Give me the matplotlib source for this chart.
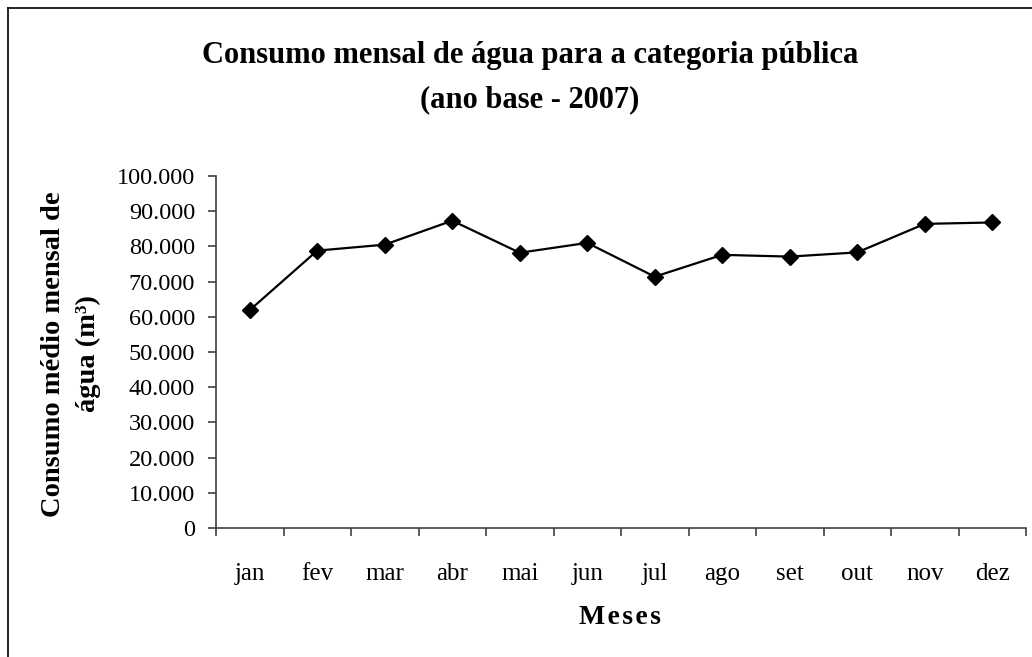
import matplotlib
matplotlib.use("Agg")
import matplotlib.pyplot as plt
from matplotlib.lines import Line2D
import numpy as np

meses = ["jan", "fev", "mar", "abr", "mai", "jun", "jul", "ago", "set", "out", "nov", "dez"]
consumo = [61900, 78800, 80500, 87300, 78200, 81000, 71400, 77600, 77100, 78300, 86400, 86800]
yticks = [0, 10000, 20000, 30000, 40000, 50000, 60000, 70000, 80000, 90000, 100000]
ytick_labels = ["0", "10.000", "20.000", "30.000", "40.000", "50.000", "60.000",
                "70.000", "80.000", "90.000", "100.000"]

plt.rcParams['font.family'] = ['Liberation Serif', 'DejaVu Serif']

fig = plt.figure(figsize=(10.32, 6.57), dpi=100)
ax = fig.add_axes([216/1032, 1-528/657, (1026-216)/1032, (528-176)/657])

x = np.arange(len(meses))
ax.plot(x, consumo, color='black', lw=1.6, marker='D', markersize=8, zorder=3)

ax.set_xlim(-0.5, len(meses) - 0.5)
ax.set_ylim(0, 100000)
ax.set_yticks(yticks)
ax.set_yticklabels(ytick_labels, fontsize=17.5)
ax.set_xticks(x)
ax.set_xticklabels(meses, fontsize=18)
ax.set_xticks(np.arange(len(meses) + 1) - 0.5, minor=True)
ax.tick_params(axis='x', which='major', length=0, pad=25)
ax.tick_params(axis='x', which='minor', length=6, width=1.2, color='#404040', direction='out')
ax.tick_params(axis='y', length=6, width=1.2, color='#404040', direction='out', pad=9)

for s in ['top', 'right']:
    ax.spines[s].set_visible(False)
for s in ['left', 'bottom']:
    ax.spines[s].set_color('#404040')
    ax.spines[s].set_linewidth(1.2)

fig.text(530/1032, 1-55/657, "Consumo mensal de água para a categoria pública",
         ha='center', va='center', fontsize=22, fontweight='bold')
fig.text(530/1032, 1-100/657, "(ano base - 2007)",
         ha='center', va='center', fontsize=22, fontweight='bold')

fig.text(54/1032, 1-354/657, "Consumo médio mensal de", rotation=90,
         ha='center', va='center', fontsize=20.5, fontweight='bold')
fig.text(88/1032, 1-354/657, "água (m³)", rotation=90,
         ha='center', va='center', fontsize=20.5, fontweight='bold')

fig.text(620/1032, 1-617/657, "M\u200ae\u200as\u200ae\u200as", ha='center', va='center',
         fontsize=20, fontweight='bold')

# frame (left and top edges visible in the crop)
fig.add_artist(Line2D([8/1032, 8/1032], [0, 1-8/657], transform=fig.transFigure,
                      color='black', lw=1.2))
fig.add_artist(Line2D([8/1032, 1], [1-8/657, 1-8/657], transform=fig.transFigure,
                      color='black', lw=1.2))

fig.savefig("out.png", dpi=100)
